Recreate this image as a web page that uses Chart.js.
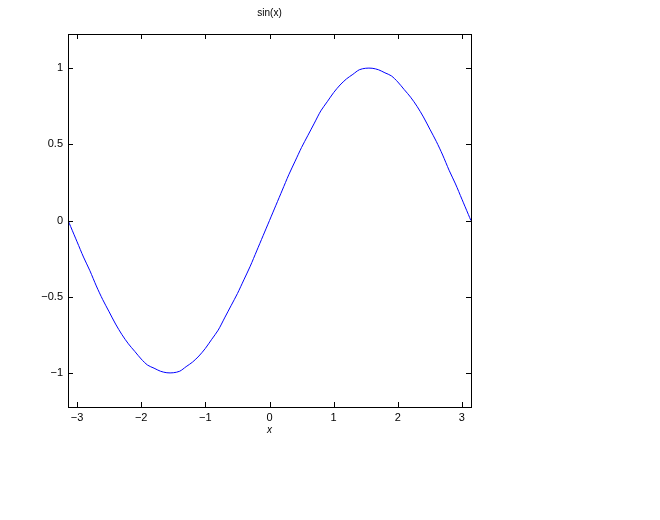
<!DOCTYPE html>
<html>
<head>
<meta charset="utf-8">
<script src="https://cdn.jsdelivr.net/npm/chart.js@4/dist/chart.umd.min.js"></script>
<style>
  html, body { margin: 0; padding: 0; background: #fff; }
  #wrap { width: 660px; height: 520px; }
</style>
</head>
<body>
<div id="wrap"><canvas id="sinChart" width="660" height="520"></canvas></div>
<script>
// valores
const xValues = [-3.14, -3.1, -3.0, -2.9, -2.8, -2.7, -2.6, -2.5, -2.4, -2.3, -2.2, -2.1, -2.0, -1.9, -1.8, -1.7, -1.6,
                 -1.5, -1.4, -1.3, -1.2, -1.1, -1.0, -0.9, -0.8, -0.7, -0.6, -0.5, -0.4, -0.3, -0.2, -0.1,
                 0.0, 0.1, 0.2, 0.3, 0.4, 0.5, 0.6, 0.7, 0.8, 0.9, 1.0, 1.1, 1.2, 1.3, 1.4, 1.5,
                 1.6, 1.7, 1.8, 1.9, 2.0, 2.1, 2.2, 2.3, 2.4, 2.5, 2.6, 2.7, 2.8, 2.9, 3.0, 3.1, 3.14];
const yValues = [0.00, -0.04, -0.14, -0.24, -0.33, -0.43, -0.52, -0.60, -0.68, -0.75, -0.81, -0.86, -0.91, -0.95, -0.97, -0.99, -1.00,
                 -1.00, -0.99, -0.96, -0.93, -0.89, -0.84, -0.78, -0.72, -0.64, -0.56, -0.48, -0.39, -0.30, -0.20, -0.10,
                 0.00, 0.10, 0.20, 0.30, 0.39, 0.48, 0.56, 0.64, 0.72, 0.78, 0.84, 0.89, 0.93, 0.96, 0.99, 1.00,
                 1.00, 0.99, 0.97, 0.95, 0.91, 0.86, 0.81, 0.75, 0.68, 0.60, 0.52, 0.43, 0.33, 0.24, 0.14, 0.04, 0.00];
const xTicks = [-3, -2, -1, 0, 1, 2, 3];
const yTicks = [-1, -0.5, 0, 0.5, 1];
const titleText = 'sin(x)';
const xLabel = 'x';

const points = xValues.map((x, i) => ({ x: x, y: yValues[i] }));
const fmt = v => String(v).replace('-', '\u2212');

// caja, marcas hacia dentro, título y etiqueta x
const boxPlugin = {
    id: 'boxPlugin',
    afterDraw(chart) {
        const ctx = chart.ctx;
        const a = chart.chartArea;
        const sx = chart.scales.x, sy = chart.scales.y;
        const t = 5;
        ctx.save();
        ctx.strokeStyle = '#000';
        ctx.lineWidth = 1;
        ctx.strokeRect(Math.round(a.left) + 0.5, Math.round(a.top) + 0.5,
                       Math.round(a.right - a.left), Math.round(a.bottom - a.top));
        ctx.beginPath();
        xTicks.forEach(v => {
            const px = Math.round(sx.getPixelForValue(v)) + 0.5;
            ctx.moveTo(px, a.bottom); ctx.lineTo(px, a.bottom - t);
            ctx.moveTo(px, a.top); ctx.lineTo(px, a.top + t);
        });
        yTicks.forEach(v => {
            const py = Math.round(sy.getPixelForValue(v)) + 0.5;
            ctx.moveTo(a.left, py); ctx.lineTo(a.left + t, py);
            ctx.moveTo(a.right, py); ctx.lineTo(a.right - t, py);
        });
        ctx.stroke();
        const cx = (a.left + a.right) / 2;
        ctx.fillStyle = '#000';
        ctx.textAlign = 'center';
        ctx.textBaseline = 'middle';
        ctx.font = '10px "Liberation Sans", Arial, sans-serif';
        ctx.fillText(titleText, cx, 13);
        ctx.font = 'italic 10px "Liberation Sans", Arial, sans-serif';
        ctx.fillText(xLabel, cx, 430);
        ctx.restore();
    }
};

const sinChart = new Chart(document.getElementById('sinChart'), {
    type: 'line',
    data: {
        datasets: [{
            data: points,
            borderColor: '#0000ff',
            borderWidth: 1,
            pointRadius: 0,
            tension: 0.3,
            fill: false
        }]
    },
    options: {
        responsive: false,
        animation: false,
        layout: {
            padding: { left: 0, top: 34, right: 189, bottom: 0 }
        },
        plugins: {
            legend: { display: false },
            tooltip: { enabled: false },
            title: { display: false }
        },
        scales: {
            x: {
                type: 'linear',
                min: -Math.PI,
                max: Math.PI,
                grid: { display: false, drawTicks: false },
                border: { display: false },
                afterBuildTicks: s => { s.ticks = xTicks.map(v => ({ value: v })); },
                afterFit: s => { s.height = 113; },
                ticks: {
                    padding: 4,
                    color: '#000',
                    font: { family: '"Liberation Sans", Arial, sans-serif', size: 11 },
                    maxRotation: 0,
                    callback: v => fmt(v)
                }
            },
            y: {
                type: 'linear',
                min: -1.225,
                max: 1.225,
                grid: { display: false, drawTicks: false },
                border: { display: false },
                afterBuildTicks: s => { s.ticks = yTicks.map(v => ({ value: v })); },
                afterFit: s => { s.width = 68; },
                ticks: {
                    padding: 5,
                    color: '#000',
                    font: { family: '"Liberation Sans", Arial, sans-serif', size: 11 },
                    callback: v => fmt(v)
                }
            }
        }
    },
    plugins: [boxPlugin]
});
</script>
</body>
</html>
